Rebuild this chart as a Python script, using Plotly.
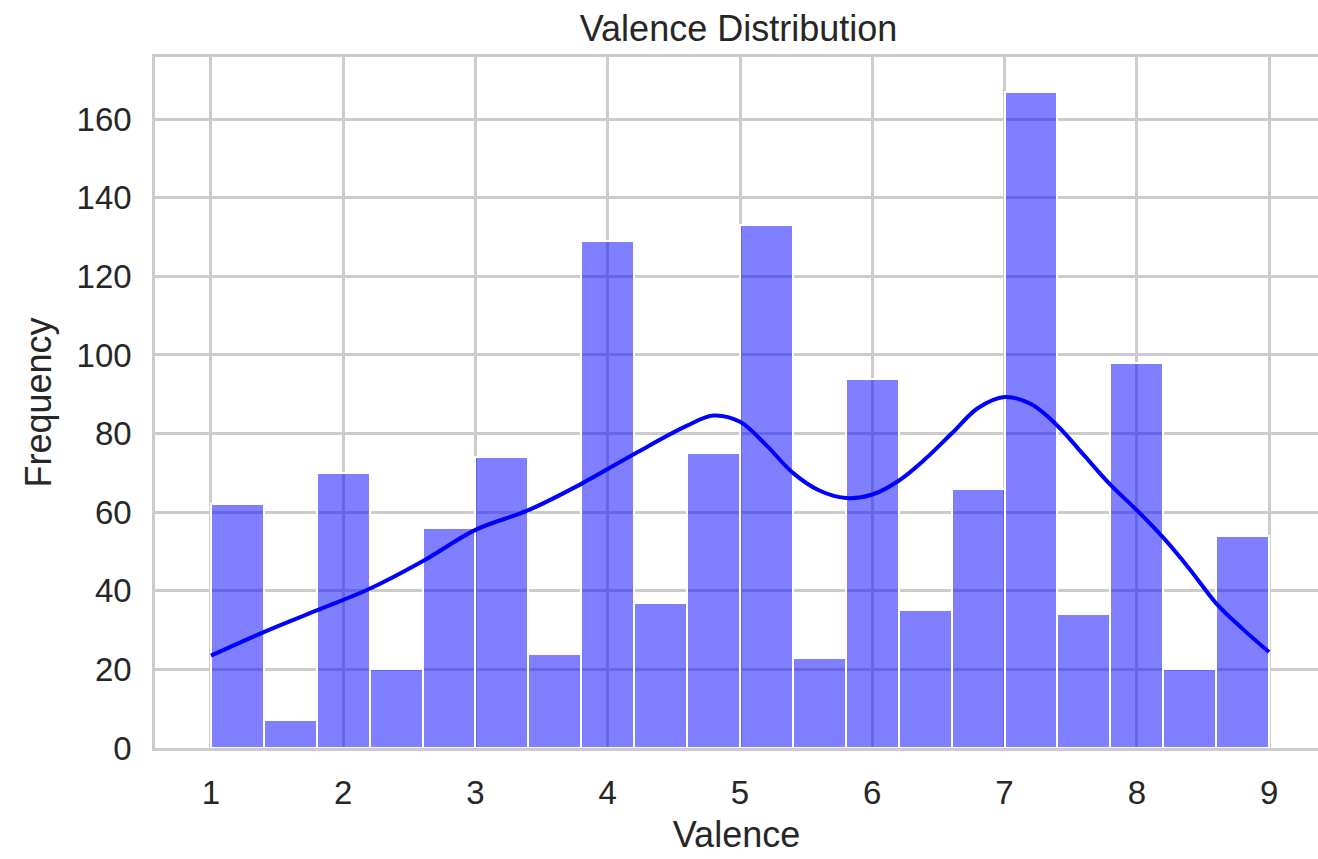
import plotly.graph_objects as go

# Histogram of valence ratings: 20 bins of width 0.4 spanning 1..9
bin_start = 1.0
bin_width = 0.4
counts = [62, 7, 70, 20, 56, 74, 24, 129, 37, 75,
          133, 23, 94, 35, 66, 167, 34, 98, 20, 54]

# Kernel density estimate, scaled to counts
kde_x = [1.0, 1.4, 1.8, 2.2, 2.6, 3.0, 3.4, 3.8, 4.2, 4.6, 4.8, 5.0,
         5.2, 5.4, 5.6, 5.8, 6.0, 6.2, 6.4, 6.6, 6.8, 7.0, 7.2, 7.4,
         7.6, 7.8, 8.0, 8.2, 8.4, 8.6, 8.8, 9.0]
kde_y = [23.5, 29.5, 35.0, 40.5, 47.5, 55.5, 60.5, 67.2, 74.8, 82.0, 84.6,
         83.0, 77.0, 70.0, 65.5, 63.6, 64.5, 68.0, 73.5, 80.0, 86.5, 89.3,
         87.5, 82.0, 74.5, 67.0, 60.5, 53.5, 45.5, 36.8, 30.3, 24.4]

x_ticks = [1, 2, 3, 4, 5, 6, 7, 8, 9]
y_ticks = [0, 20, 40, 60, 80, 100, 120, 140, 160]

bin_centers = [bin_start + bin_width * (i + 0.5) for i in range(len(counts))]

TEXT = "#262626"
GRID = "#cccccc"
FONT = "Liberation Sans, Arial, sans-serif"

fig = go.Figure()
fig.add_trace(go.Bar(
    x=bin_centers, y=counts, width=bin_width,
    marker=dict(color="rgba(0,0,255,0.5)", line=dict(color="white", width=2)),
    showlegend=False, hoverinfo="x+y",
))
fig.add_trace(go.Scatter(
    x=kde_x, y=kde_y, mode="lines",
    line=dict(color="#0000ff", width=4, shape="spline", smoothing=1.0),
    showlegend=False,
))

fig.update_layout(
    width=1318, height=859,
    margin=dict(l=155, r=0, t=57, b=111),
    paper_bgcolor="white", plot_bgcolor="white",
    font=dict(family=FONT, color=TEXT, size=33),
    bargap=0,
    title=dict(text="Valence Distribution", x=(155 + 1322) / 2 / 1318, xanchor="center",
               y=1 - 28 / 859, yanchor="middle", yref="container",
               font=dict(size=36, color=TEXT, family=FONT)),
)

fig.update_xaxes(
    range=[0.577, 9.37], tickvals=x_ticks, ticktext=[str(v) for v in x_ticks],
    showgrid=True, gridcolor=GRID, gridwidth=2.5,
    showline=True, linecolor=GRID, linewidth=2.5, mirror=True,
    zeroline=False, ticks="", ticklabelstandoff=14,
    tickfont=dict(size=33, color=TEXT, family=FONT),
    title=dict(text="Valence", font=dict(size=36, color=TEXT, family=FONT), standoff=12),
    automargin=False,
)
fig.update_yaxes(
    range=[0, 175.8], tickvals=y_ticks, ticktext=[str(v) for v in y_ticks],
    showgrid=True, gridcolor=GRID, gridwidth=2.5,
    showline=True, linecolor=GRID, linewidth=2.5,
    zeroline=False, ticks="", ticklabelstandoff=14,
    tickfont=dict(size=33, color=TEXT, family=FONT),
    title=dict(text="Frequency", font=dict(size=36, color=TEXT, family=FONT), standoff=14),
    automargin=False,
)

fig.write_html("out.html")
